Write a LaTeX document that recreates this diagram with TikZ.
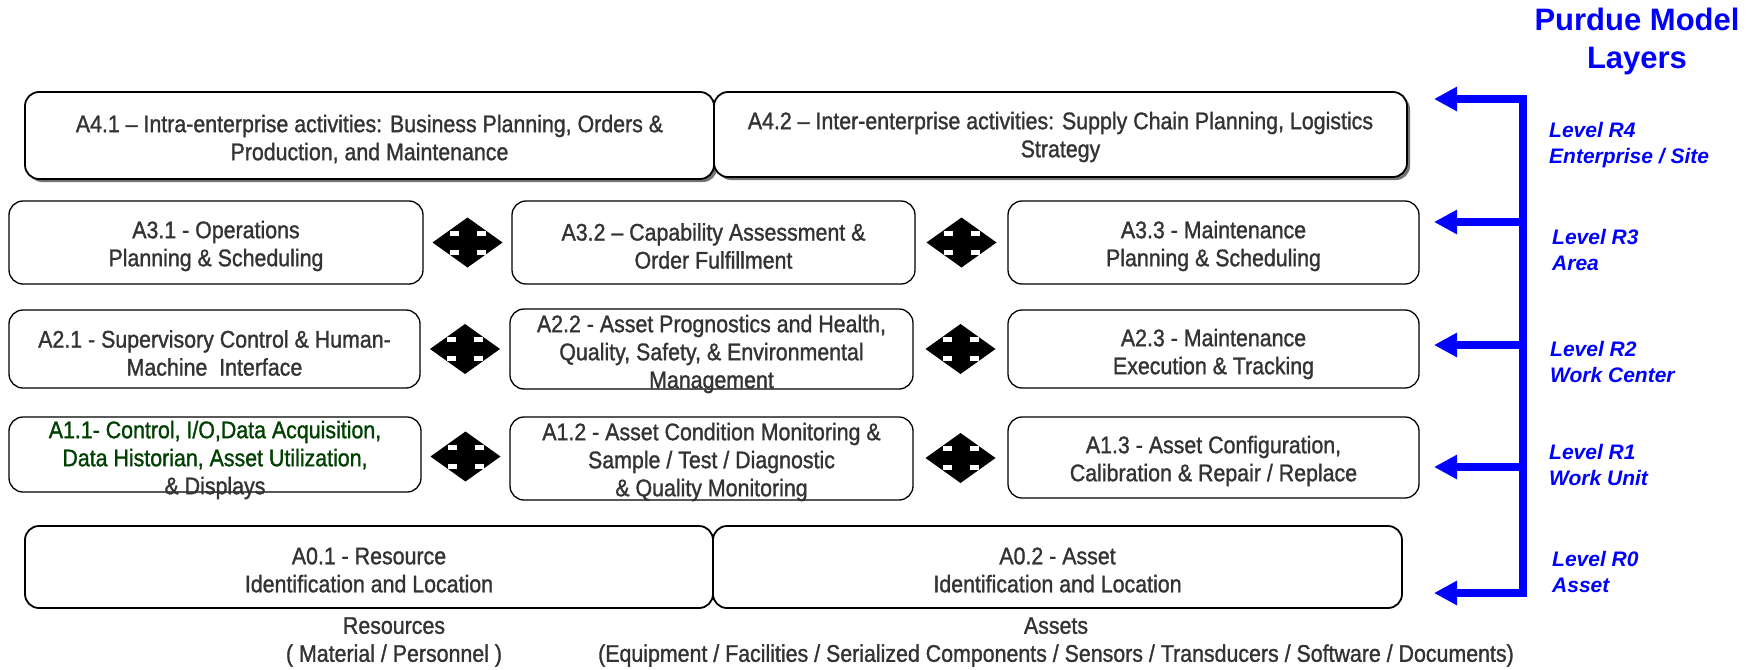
\documentclass[tikz,border=0pt]{standalone}
\usepackage{fontspec}
\setmainfont[FakeStretch=0.89, FakeBold=1.2]{Liberation Sans}
\newfontfamily\levelfont{Liberation Sans}
\usetikzlibrary{calc,arrows.meta,shadows}
\definecolor{actgray}{RGB}{51,51,51}
\definecolor{actgreen}{RGB}{0,64,0}
\tikzset{
  actbox/.style={draw, fill=white, rounded corners=14pt, line width=1.3pt, inner sep=0pt},
  topbox/.style={actbox, line width=1.8pt,
    drop shadow={shadow xshift=3pt, shadow yshift=-3pt, fill=black!55, opacity=1}},
  acttext/.style={align=center, text=actgray, inner sep=0pt, font=\fontsize{24}{28}\selectfont},
  leveltext/.style={align=left, anchor=west, inner sep=0pt, text=blue,
    font=\levelfont\bfseries\itshape\fontsize{21}{26}\selectfont},
  titletext/.style={align=center, inner sep=0pt, text=blue,
    font=\levelfont\bfseries\fontsize{31}{38}\selectfont},
  bus/.style={draw=blue, line width=8pt, >={Triangle[length=23pt, width=23pt]}},
  quadarrow/.pic={
    \fill (-35,0) -- (0,-25) -- (35,0) -- (0,25) -- cycle;
    \foreach \sx in {-1,1} \foreach \sy in {-1,1}
      \fill[white] (9*\sx,7*\sy) rectangle (18*\sx,12*\sy);
  }
}
\begin{document}
\begin{tikzpicture}[x=1pt,y=-1pt]
\useasboundingbox (0,0) rectangle (1755,669);
%\draw [help lines, step=50] (0,0) grid (1755,669);
% level 4
\node[topbox, minimum width=689pt, minimum height=87pt] (A41) at (369.5,135.5) {};
\node[topbox, minimum width=693pt, minimum height=85pt] (A42) at (1060.5,134.5) {};
\node[acttext] (A41t) at (369.5,139) {A4.1 – Intra-enterprise activities: Business Planning, Orders \&\\Production, and Maintenance};
\node[acttext] (A42t) at (1060.5,137) {A4.2 – Inter-enterprise activities: Supply Chain Planning, Logistics\\Strategy};
% level 3
\node[actbox, minimum width=414pt, minimum height=83pt] (A31) at (216,242.5) {};
\node[actbox, minimum width=403pt, minimum height=83pt] (A32) at (713.5,242.5) {};
\node[actbox, minimum width=411pt, minimum height=83pt] (A33) at (1213.5,242.5) {};
\node[acttext] (A31t) at (216,246) {A3.1 - Operations\\Planning \& Scheduling};
\node[acttext] (A32t) at (713.5,246) {A3.2 – Capability Assessment \&\\Order Fulfillment};
\node[acttext] (A33t) at (1213.5,246) {A3.3 - Maintenance\\Planning \& Scheduling};
% level 2
\node[actbox, minimum width=411pt, minimum height=78pt] (A21) at (214.5,349) {};
\node[actbox, minimum width=403pt, minimum height=80pt] (A22) at (711.5,349) {};
\node[actbox, minimum width=411pt, minimum height=78pt] (A23) at (1213.5,349) {};
\node[acttext] (A21t) at (214.5,353) {A2.1 - Supervisory Control \& Human-\\Machine\ \ Interface};
\node[acttext] (A22t) at (711.5,354) {A2.2 - Asset Prognostics and Health,\\Quality, Safety, \& Environmental\\Management};
\node[acttext] (A23t) at (1213.5,354) {A2.3 - Maintenance\\Execution \& Tracking};
% level 1
\node[actbox, minimum width=412pt, minimum height=75pt] (A11) at (215,454.5) {};
\node[actbox, minimum width=403pt, minimum height=83pt] (A12) at (711.5,458.5) {};
\node[actbox, minimum width=411pt, minimum height=81pt] (A13) at (1213.5,457.5) {};
\node[acttext] (A11t) at (215,460) {\textcolor{actgreen}{A1.1- Control, I/O,Data Acquisition,}\\\textcolor{actgreen}{Data Historian, Asset Utilization,}\\\& Displays};
\node[acttext] (A12t) at (711.5,462) {A1.2 - Asset Condition Monitoring \&\\Sample / Test / Diagnostic\\\& Quality Monitoring};
\node[acttext] (A13t) at (1213.5,461) {A1.3 - Asset Configuration,\\Calibration \& Repair / Replace};
% level 0
\node[actbox, line width=1.8pt, minimum width=688pt, minimum height=82pt] (A01) at (369,567) {};
\node[actbox, line width=1.8pt, minimum width=689pt, minimum height=82pt] (A02) at (1057.5,567) {};
\node[acttext] (A01t) at (369,570) {A0.1 - Resource\\Identification and Location};
\node[acttext] (A02t) at (1057.5,570) {A0.2 - Asset\\Identification and Location};
\node[acttext] (res) at (394,642) {Resources\\( Material / Personnel )};
\node[acttext] (ast) at (1056,642) {Assets\\(Equipment / Facilities / Serialized Components / Sensors / Transducers / Software / Documents)};
% exchanges between activities
\pic at ($(A31.east)!0.5!(A32.west)$) {quadarrow};
\pic at ($(A32.east)!0.5!(A33.west)$) {quadarrow};
\pic at ($(A21.east)!0.5!(A22.west)$) {quadarrow};
\pic at ($(A22.east)!0.5!(A23.west)$) {quadarrow};
\pic at ($(A11.east)!0.5!(A12.west)$) {quadarrow};
\pic at ($(A12.east)!0.5!(A13.west)$) {quadarrow};
% Purdue layers
\node[titletext] (title) at (1637,41) {Purdue Model\\Layers};
\coordinate (bR4) at (1523,99);
\coordinate (bR0) at (1523,593);
\coordinate (tR4) at (1434,99);
\coordinate (tR0) at (1434,593);
\draw[bus, <->] (tR4) -- (bR4) -- (bR0) -- (tR0);
\foreach \lv/\yy in {R3/222, R2/345, R1/467} {
  \coordinate (b\lv) at (1523,\yy);
  \coordinate (t\lv) at (1434,\yy);
  \draw[bus, ->] (b\lv) -- (t\lv);
}
\node[leveltext] (L4) at (1549,145.5) {Level R4\\Enterprise / Site};
\node[leveltext] (L3) at (1552,249.5) {Level R3\\Area};
\node[leveltext] (L2) at (1550,362) {Level R2\\Work Center};
\node[leveltext] (L1) at (1549,465) {Level R1\\Work Unit};
\node[leveltext] (L0) at (1552,571.5) {Level R0\\Asset};
\end{tikzpicture}
\end{document}
